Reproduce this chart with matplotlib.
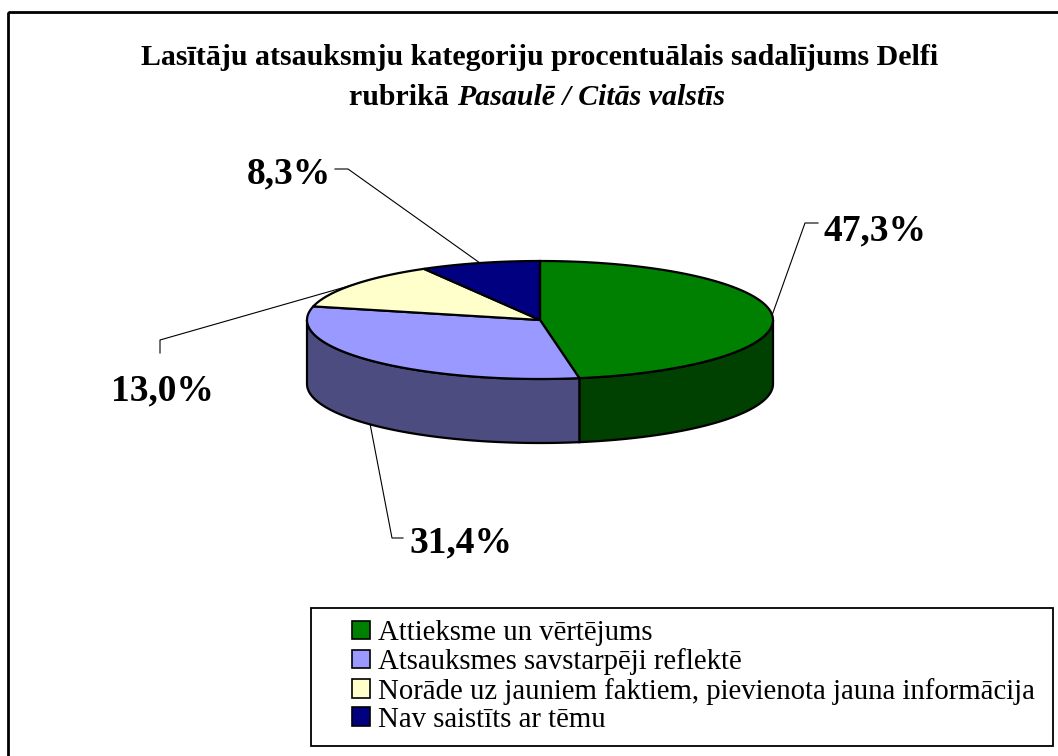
import numpy as np
import matplotlib.pyplot as plt
from matplotlib.patches import Polygon, Patch, Rectangle

# data
categories = ["Attieksme un vērtējums",
              "Atsauksmes savstarpēji reflektē",
              "Norāde uz jauniem faktiem, pievienota jauna informācija",
              "Nav saistīts ar tēmu"]
shares = [47.3, 31.4, 13.0, 8.3]
share_labels = ["47,3%", "31,4%", "13,0%", "8,3%"]
top_colors = ["#008000", "#9999ff", "#ffffcc", "#000080"]
side_colors = ["#004000", "#4c4c80", "#808066", "#000040"]

plt.rcParams['font.family'] = ['Liberation Serif', 'DejaVu Serif']

fig = plt.figure(figsize=(10.58, 7.56), dpi=100)
ax = fig.add_axes([0, 0, 1, 1])
ax.set_xlim(0, 1058)
ax.set_ylim(756, 0)
ax.axis('off')

# outer frame of the chart area
ax.add_patch(Rectangle((8, 12), 1100, 800, fill=False, lw=2, ec='black'))

# pie geometry (pixels)
cx, cy, rx, ry, depth = 540, 320, 233, 59, 64


def ell(theta, dy=0.0):
    t = np.radians(theta)
    return cx + rx * np.cos(t), cy - ry * np.sin(t) + dy


ends = 90 - 3.6 * np.cumsum(shares)
starts = np.concatenate([[90], ends[:-1]])

# side walls, only the front half (-180..0) is visible
for s, e, col in zip(starts, ends, side_colors):
    lo, hi = max(e, -180), min(s, 0)
    if lo >= hi:
        continue
    th = np.linspace(hi, lo, 80)
    tx, ty = ell(th)
    bx, by = ell(th[::-1], depth)
    pts = np.column_stack([np.r_[tx, bx], np.r_[ty, by]])
    ax.add_patch(Polygon(pts, closed=True, fc=col, ec='black', lw=1.6, zorder=2))

# top slices
for s, e, col in zip(starts, ends, top_colors):
    th = np.linspace(s, e, 120)
    tx, ty = ell(th)
    pts = np.column_stack([np.r_[cx, tx], np.r_[cy, ty]])
    ax.add_patch(Polygon(pts, closed=True, fc=col, ec='black', lw=1.6, zorder=3))

# data labels with leader lines
elbows = [(805, 223), (392, 538), (160, 340), (348, 169)]
line_ends = [(818, 223), (403, 538), (160, 353), (335, 169)]
text_pos = [(823, 240, 'left'), (409, 552, 'left'), (162, 400, 'center'), (331, 183, 'right')]
for s, e, lab, el, le, tp in zip(starts, ends, share_labels, elbows, line_ends, text_pos):
    m = (s + e) / 2
    ax_, ay_ = ell(m, 0 if np.sin(np.radians(m)) >= 0 else depth)
    ax.plot([ax_, el[0], le[0]], [ay_, el[1], le[1]], color='black', lw=0.8, zorder=4)
    ax.text(tp[0], tp[1], lab, ha=tp[2], va='baseline', fontsize=27,
            fontweight='bold', zorder=5)

# title
ax.text(540, 65, "Lasītāju atsauksmju kategoriju procentuālais sadalījums Delfi",
        ha='center', va='baseline', fontsize=21.5, fontweight='bold')
fig.canvas.draw()
r = fig.canvas.get_renderer()
t1 = ax.text(0, 105, "rubrikā ", va='baseline', fontsize=21.5, fontweight='bold')
t2 = ax.text(0, 105, "Pasaulē / Citās valstīs", va='baseline', fontsize=21.5,
             fontweight='bold', style='italic')
w1 = t1.get_window_extent(r).width
w2 = t2.get_window_extent(r).width
x0 = 537 - (w1 + w2) / 2
t1.set_x(x0)
t2.set_x(x0 + w1)

# legend
ax.add_patch(Rectangle((311, 608), 742, 138, fill=False, lw=1.3, ec='black'))
handles = [Patch(fc=c, ec='black', lw=1.2) for c in top_colors]
leg = ax.legend(handles, categories, loc='upper left',
                bbox_to_anchor=(352 / 1058, 1 - 620 / 756), borderaxespad=0,
                fontsize=20.7, frameon=False,
                handlelength=0.62, handleheight=0.62, handletextpad=0.3,
                labelspacing=0.08, borderpad=0)

fig.savefig('out.png', dpi=100)
